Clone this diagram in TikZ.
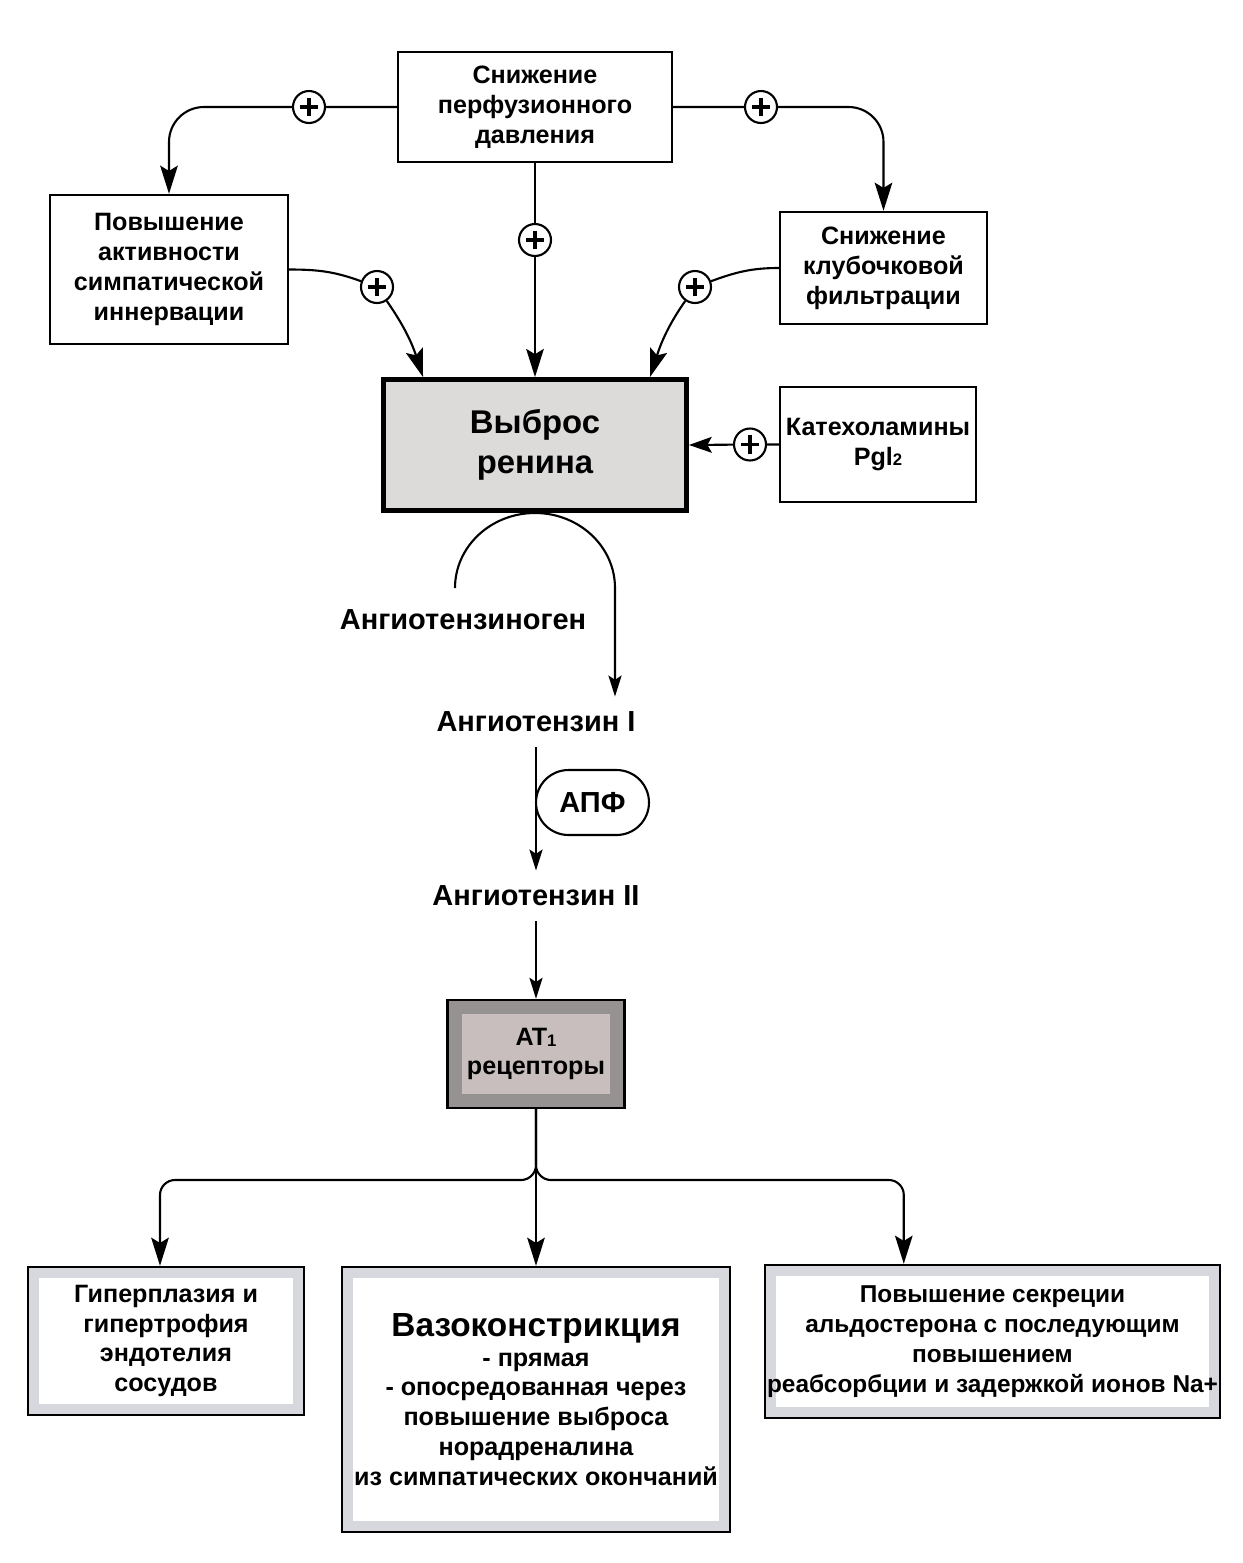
\documentclass[tikz,border=0pt]{standalone}
\usepackage{fontspec}
\setmainfont{Liberation Sans}
\usetikzlibrary{arrows.meta}
\definecolor{renfill}{RGB}{221,218,218}
\definecolor{atband}{RGB}{150,146,146}
\definecolor{atfill}{RGB}{200,190,190}
\definecolor{bband}{RGB}{214,216,222}
\begin{document}
\begin{tikzpicture}[x=0.02cm,y=0.02cm,
  txt/.style={font=\fontsize{14.3}{17}\selectfont\bfseries, align=center},
  box/.style={txt, draw, line width=1.4pt, fill=white, inner sep=2pt},
  bandbox/.style n args={3}{box, path picture={
      \fill[#1] (path picture bounding box.south west) rectangle (path picture bounding box.north east);
      \fill[#2] ([shift={(#3,#3)}]path picture bounding box.south west) rectangle ([shift={(-#3,-#3)}]path picture bounding box.north east);}},
  lbl/.style={font=\fontsize{16.5}{19}\selectfont\bfseries, inner xsep=0pt, inner ysep=0.3cm},
  plus/.style={circle, draw, line width=1.2pt, fill=white, minimum size=0.64cm, inner sep=0pt,
    path picture={
      \draw[line width=1.8pt] ([xshift=-0.185cm]path picture bounding box.center) -- ([xshift=0.185cm]path picture bounding box.center);
      \draw[line width=1.8pt] ([yshift=-0.185cm]path picture bounding box.center) -- ([yshift=0.185cm]path picture bounding box.center);}},
  ln/.style={line width=1.2pt},
  big/.tip={Stealth[length=16pt,width=10pt,inset=3pt]},
  mid/.tip={Stealth[length=13pt,width=9pt,inset=2.5pt]},
  small/.tip={Stealth[length=12pt,width=7.5pt,inset=2.5pt]}
]
\useasboundingbox (0,0) rectangle (1242,-1563);

% boxes
\node[box, minimum width=5.48cm, minimum height=2.2cm] (top) at (535,-107) {Снижение\\перфузионного\\давления};
\node[box, minimum width=4.76cm, minimum height=2.98cm] (lft) at (169,-269.5) {Повышение\\активности\\симпатической\\иннервации};
\node[box, minimum width=4.14cm, minimum height=2.24cm] (rgt) at (883.5,-268) {Снижение\\клубочковой\\фильтрации};
\node[box, line width=2.8pt, fill=renfill, minimum width=6.06cm, minimum height=2.62cm,
      font=\fontsize{18.7}{23}\selectfont\bfseries] (ren) at (535,-445) {Выброс\\ренина};
\node[box, minimum width=3.92cm, minimum height=2.3cm] (kat) at (878,-444.5) {Катехоламины\\Pgl{\fontsize{9.5}{9.5}\selectfont 2}};

% plus signs
\node[plus] (p1) at (309,-107) {};
\node[plus] (p2) at (761,-107) {};
\node[plus] (p0) at (535,-240) {};
\node[plus] (p3) at (377,-287) {};
\node[plus] (p4) at (695,-287) {};
\node[plus] (p5) at (750,-444.5) {};

% middle chain
\node[lbl] (agn) at (463,-620) {Ангиотензиноген};
\node[lbl] (angI) at (536,-722) {Ангиотензин I};
\node[lbl] (angII) at (536,-896) {Ангиотензин II};
\node[draw, line width=1.2pt, rounded corners=0.65cm, minimum width=2.26cm, minimum height=1.3cm,
      font=\fontsize{16.5}{19}\selectfont\bfseries] (apf) at (592.5,-802.5) {АПФ};

\node[bandbox={atband}{atfill}{14}, minimum width=3.54cm, minimum height=2.16cm] (at1) at (536,-1054)
  {AT\raisebox{-1pt}{\fontsize{9.5}{9.5}\selectfont 1}\\рецепторы};

% bottom boxes
\node[bandbox={bband}{white}{11}, minimum width=5.52cm, minimum height=2.96cm] (bl) at (166,-1341)
  {Гиперплазия и\\гипертрофия\\эндотелия\\сосудов};
\node[bandbox={bband}{white}{11}, minimum width=7.76cm, minimum height=5.3cm] (bm) at (536,-1399.5)
  {{\fontsize{19}{21}\selectfont Вазоконстрикция}\\- прямая\\- опосредованная через\\повышение выброса\\норадреналина\\из симпатических окончаний};
\node[bandbox={bband}{white}{11}, minimum width=9.1cm, minimum height=3.06cm, inner xsep=0pt,
      font=\fontsize{13.9}{17}\selectfont\bfseries] (br) at (992.5,-1341.5)
  {Повышение секреции\\альдостерона с последующим\\повышением\\реабсорбции и задержкой ионов Na+};

% coordinates
\coordinate (renL) at ([xshift=-2.24cm]ren.north);
\coordinate (renR) at ([xshift=2.3cm]ren.north);
\coordinate (agStart) at (455,-588);
\coordinate (aIx) at (615,0);
\coordinate (junc) at (536,-1180);
\coordinate (blIn) at ([xshift=-0.12cm]bl.north);
\coordinate (brIn) at ([xshift=2.8cm]br.north west);

% connectors
\draw[ln, -{big}, rounded corners=0.7cm] (top.west) -- (p1) -| (lft.north);
\draw[ln, -{big}, rounded corners=0.7cm] (top.east) -- (p2) -| (rgt.north);
\draw[ln, -{big}] (top.south) -- (p0) -- (ren.north);
\draw[ln, -{big}] (lft.east) to[out=0,in=160] (p3) to[out=-55,in=108] (renL);
\draw[ln, -{big}] (rgt.west) to[out=180,in=20] (p4) to[out=-125,in=72] (renR);
\draw[ln, -{mid}] (kat.west) -- (p5) -- (ren.east);

\draw[ln, -{small}] (agStart) arc[start angle=180, end angle=0, x radius=80, y radius=75] -- (angI.north -| aIx);
\draw[ln, -{small}] (angI.south) -- (angII.north);
\draw[ln, -{small}] (angII.south) -- (at1.north);

\draw[ln, -{big}, rounded corners=0.3cm] (at1.south) -- (junc) -| (blIn);
\draw[ln, -{big}, rounded corners=0.3cm] (at1.south) -- (junc) -| (brIn);
\draw[ln, -{big}] (at1.south) -- (bm.north);
\end{tikzpicture}
\end{document}
